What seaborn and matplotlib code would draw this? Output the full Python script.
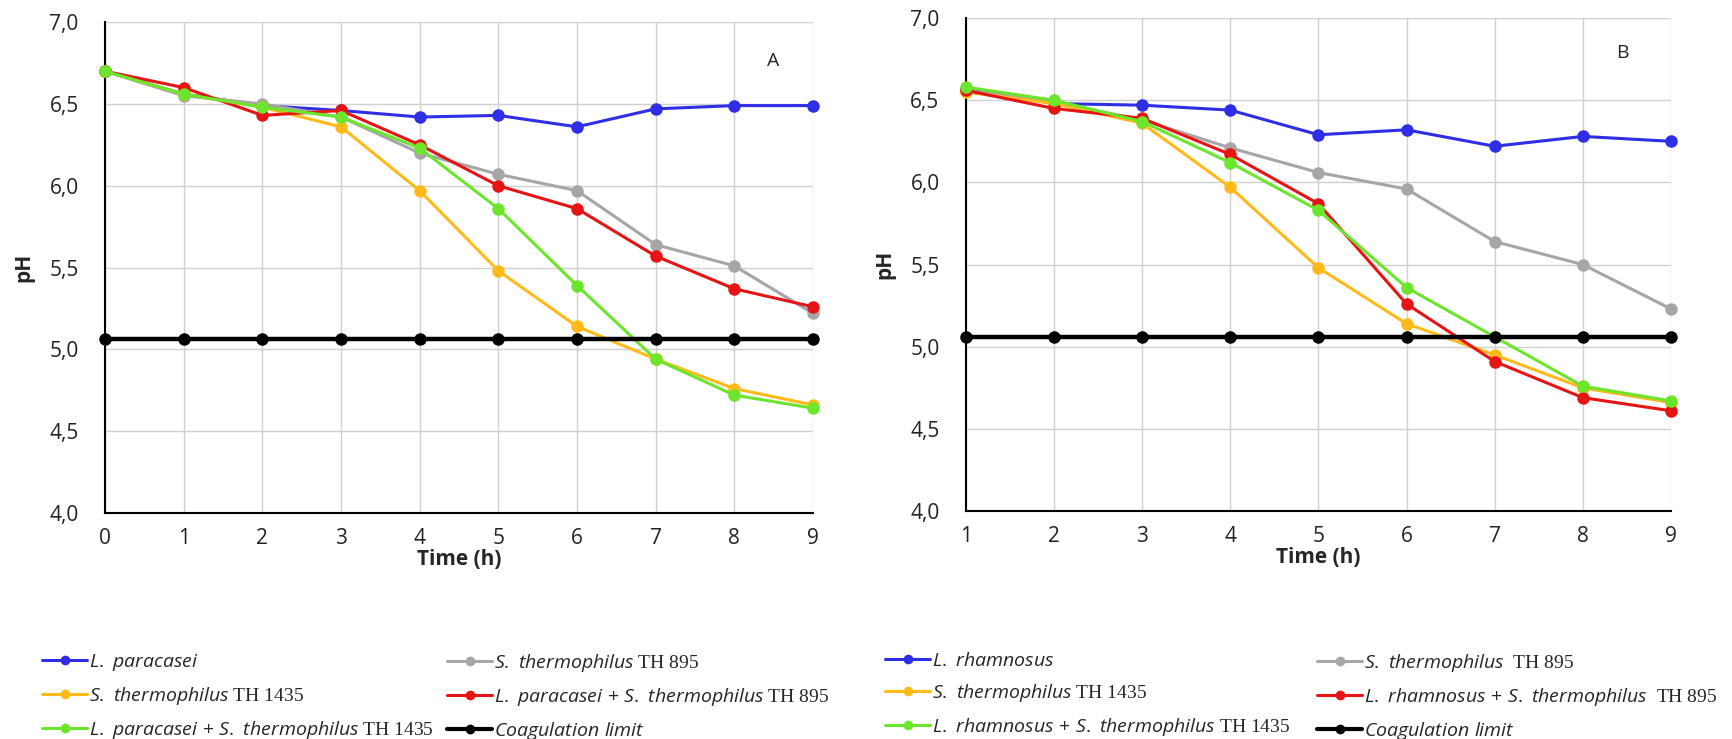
import numpy as np
import pandas as pd
import matplotlib
matplotlib.use("Agg")
import matplotlib.pyplot as plt
from matplotlib.ticker import FuncFormatter, MultipleLocator
from matplotlib.lines import Line2D
import seaborn as sns

# ---------------- data ----------------
time_a = [0, 1, 2, 3, 4, 5, 6, 7, 8, 9]
a_lp = [6.70, 6.56, 6.49, 6.46, 6.42, 6.43, 6.36, 6.47, 6.49, 6.49]
a_th895 = [6.70, 6.55, 6.50, 6.42, 6.20, 6.07, 5.97, 5.64, 5.51, 5.22]
a_th1435 = [6.70, 6.56, 6.48, 6.36, 5.97, 5.48, 5.14, 4.94, 4.76, 4.66]
a_lp_th895 = [6.70, 6.60, 6.43, 6.46, 6.25, 6.00, 5.86, 5.57, 5.37, 5.26]
a_lp_th1435 = [6.70, 6.56, 6.48, 6.42, 6.23, 5.86, 5.39, 4.94, 4.72, 4.64]
a_coag = [5.06] * 10

time_b = [1, 2, 3, 4, 5, 6, 7, 8, 9]
b_lr = [6.57, 6.48, 6.47, 6.44, 6.29, 6.32, 6.22, 6.28, 6.25]
b_th895 = [6.56, 6.49, 6.38, 6.21, 6.06, 5.96, 5.64, 5.50, 5.23]
b_th1435 = [6.55, 6.48, 6.36, 5.97, 5.48, 5.14, 4.95, 4.75, 4.66]
b_lr_th895 = [6.56, 6.45, 6.39, 6.17, 5.87, 5.26, 4.91, 4.69, 4.61]
b_lr_th1435 = [6.58, 6.50, 6.37, 6.12, 5.83, 5.36, 5.06, 4.76, 4.67]
b_coag = [5.06] * 9

labels_a = [r"$\mathit{L.\ paracasei}$",
            r"$\mathit{S.\ thermophilus}$ TH 895",
            r"$\mathit{S.\ thermophilus}$ TH 1435",
            r"$\mathit{L.\ paracasei\ {+}\ S.\ thermophilus}$ TH 895",
            r"$\mathit{L.\ paracasei\ {+}\ S.\ thermophilus}$ TH 1435",
            r"$\mathit{Coagulation\ limit}$"]
labels_b = [r"$\mathit{L.\ rhamnosus}$",
            r"$\mathit{S.\ thermophilus}$  TH 895",
            r"$\mathit{S.\ thermophilus}$ TH 1435",
            r"$\mathit{L.\ rhamnosus\ {+}\ S.\ thermophilus}$  TH 895",
            r"$\mathit{L.\ rhamnosus\ {+}\ S.\ thermophilus}$ TH 1435",
            r"$\mathit{Coagulation\ limit}$"]
y_ticks = [4.0, 4.5, 5.0, 5.5, 6.0, 6.5, 7.0]

colors = ["#2E2EE6", "#A6A6A6", "#FFBA1A", "#E61414", "#6CE62C", "#000000"]

# ---------------- style ----------------
sns.set_theme(style="white")
plt.rcParams["font.family"] = ["Open Sans", "DejaVu Sans"]
plt.rcParams["mathtext.fontset"] = "custom"
plt.rcParams["mathtext.it"] = "Open Sans:italic"
plt.rcParams["mathtext.rm"] = "Open Sans"

W, H = 1733, 739
fig = plt.figure(figsize=(W / 100, H / 100), dpi=100)
ax_a = fig.add_axes([0.0606, 0.306, 0.4085, 0.664])
ax_b = fig.add_axes([0.5574, 0.3085, 0.4068, 0.667])


def draw(ax, t, series, labels, xlim, letter, lpos):
    for i, (vals, lab) in enumerate(zip(series, labels)):
        df = pd.DataFrame({"t": t, "pH": vals})
        lw = 3.2 if i == 5 else 2.2
        sns.lineplot(data=df, x="t", y="pH", ax=ax, color=colors[i], lw=lw,
                     marker="o", markersize=9, markeredgewidth=0,
                     label=lab, legend=False, zorder=3 + i)
    ax.set_xlim(*xlim)
    ax.set_ylim(4.0, 7.0)
    ax.set_yticks(y_ticks)
    ax.xaxis.set_major_locator(MultipleLocator(1))
    ax.yaxis.set_major_formatter(FuncFormatter(lambda v, p: f"{v:.1f}".replace(".", ",")))
    ax.grid(True, color="#D0D0D0", lw=1.0, zorder=0)
    for s in ["top", "right"]:
        ax.spines[s].set_visible(False)
    for s in ["left", "bottom"]:
        ax.spines[s].set_color("black")
        ax.spines[s].set_linewidth(1.5)
    ax.tick_params(axis="both", labelsize=15, length=0, colors="#222222")
    ax.tick_params(axis="y", pad=19)
    ax.tick_params(axis="x", pad=11)
    ax.set_xlabel("Time (h)", fontsize=15, fontweight="bold", labelpad=0)
    ax.set_ylabel("pH", fontsize=15, fontweight="bold", labelpad=11)
    ax.text(lpos[0], lpos[1], letter, fontsize=14, ha="center", va="center")
    for ln in ax.get_lines():
        ln.set_clip_on(False)


draw(ax_a, time_a, [a_lp, a_th895, a_th1435, a_lp_th895, a_lp_th1435, a_coag],
     labels_a, (0, 9), "A", (8.5, 6.76))
draw(ax_b, time_b, [b_lr, b_th895, b_th1435, b_lr_th895, b_lr_th1435, b_coag],
     labels_b, (1, 9), "B", (8.45, 6.79))


def legend_col(labels, idx, x_px):
    handles = [Line2D([], [], color=colors[i], lw=3 if i == 5 else 2.2, marker="o",
                      markersize=7, markeredgewidth=0) for i in idx]
    fig.legend(handles, [labels[i] for i in idx], ncol=1, loc="upper left",
               bbox_to_anchor=((x_px - 8) / W, 0.1285), frameon=False,
               prop={"family": ["Liberation Serif"], "size": 14},
               handlelength=2.35, handletextpad=0.1, labelspacing=0.62,
               borderaxespad=0)


legend_col(labels_a, [0, 2, 4], 42)
legend_col(labels_a, [1, 3, 5], 447)
legend_col(labels_b, [0, 2, 4], 885)
legend_col(labels_b, [1, 3, 5], 1317)

fig.savefig("out.png", dpi=100)
